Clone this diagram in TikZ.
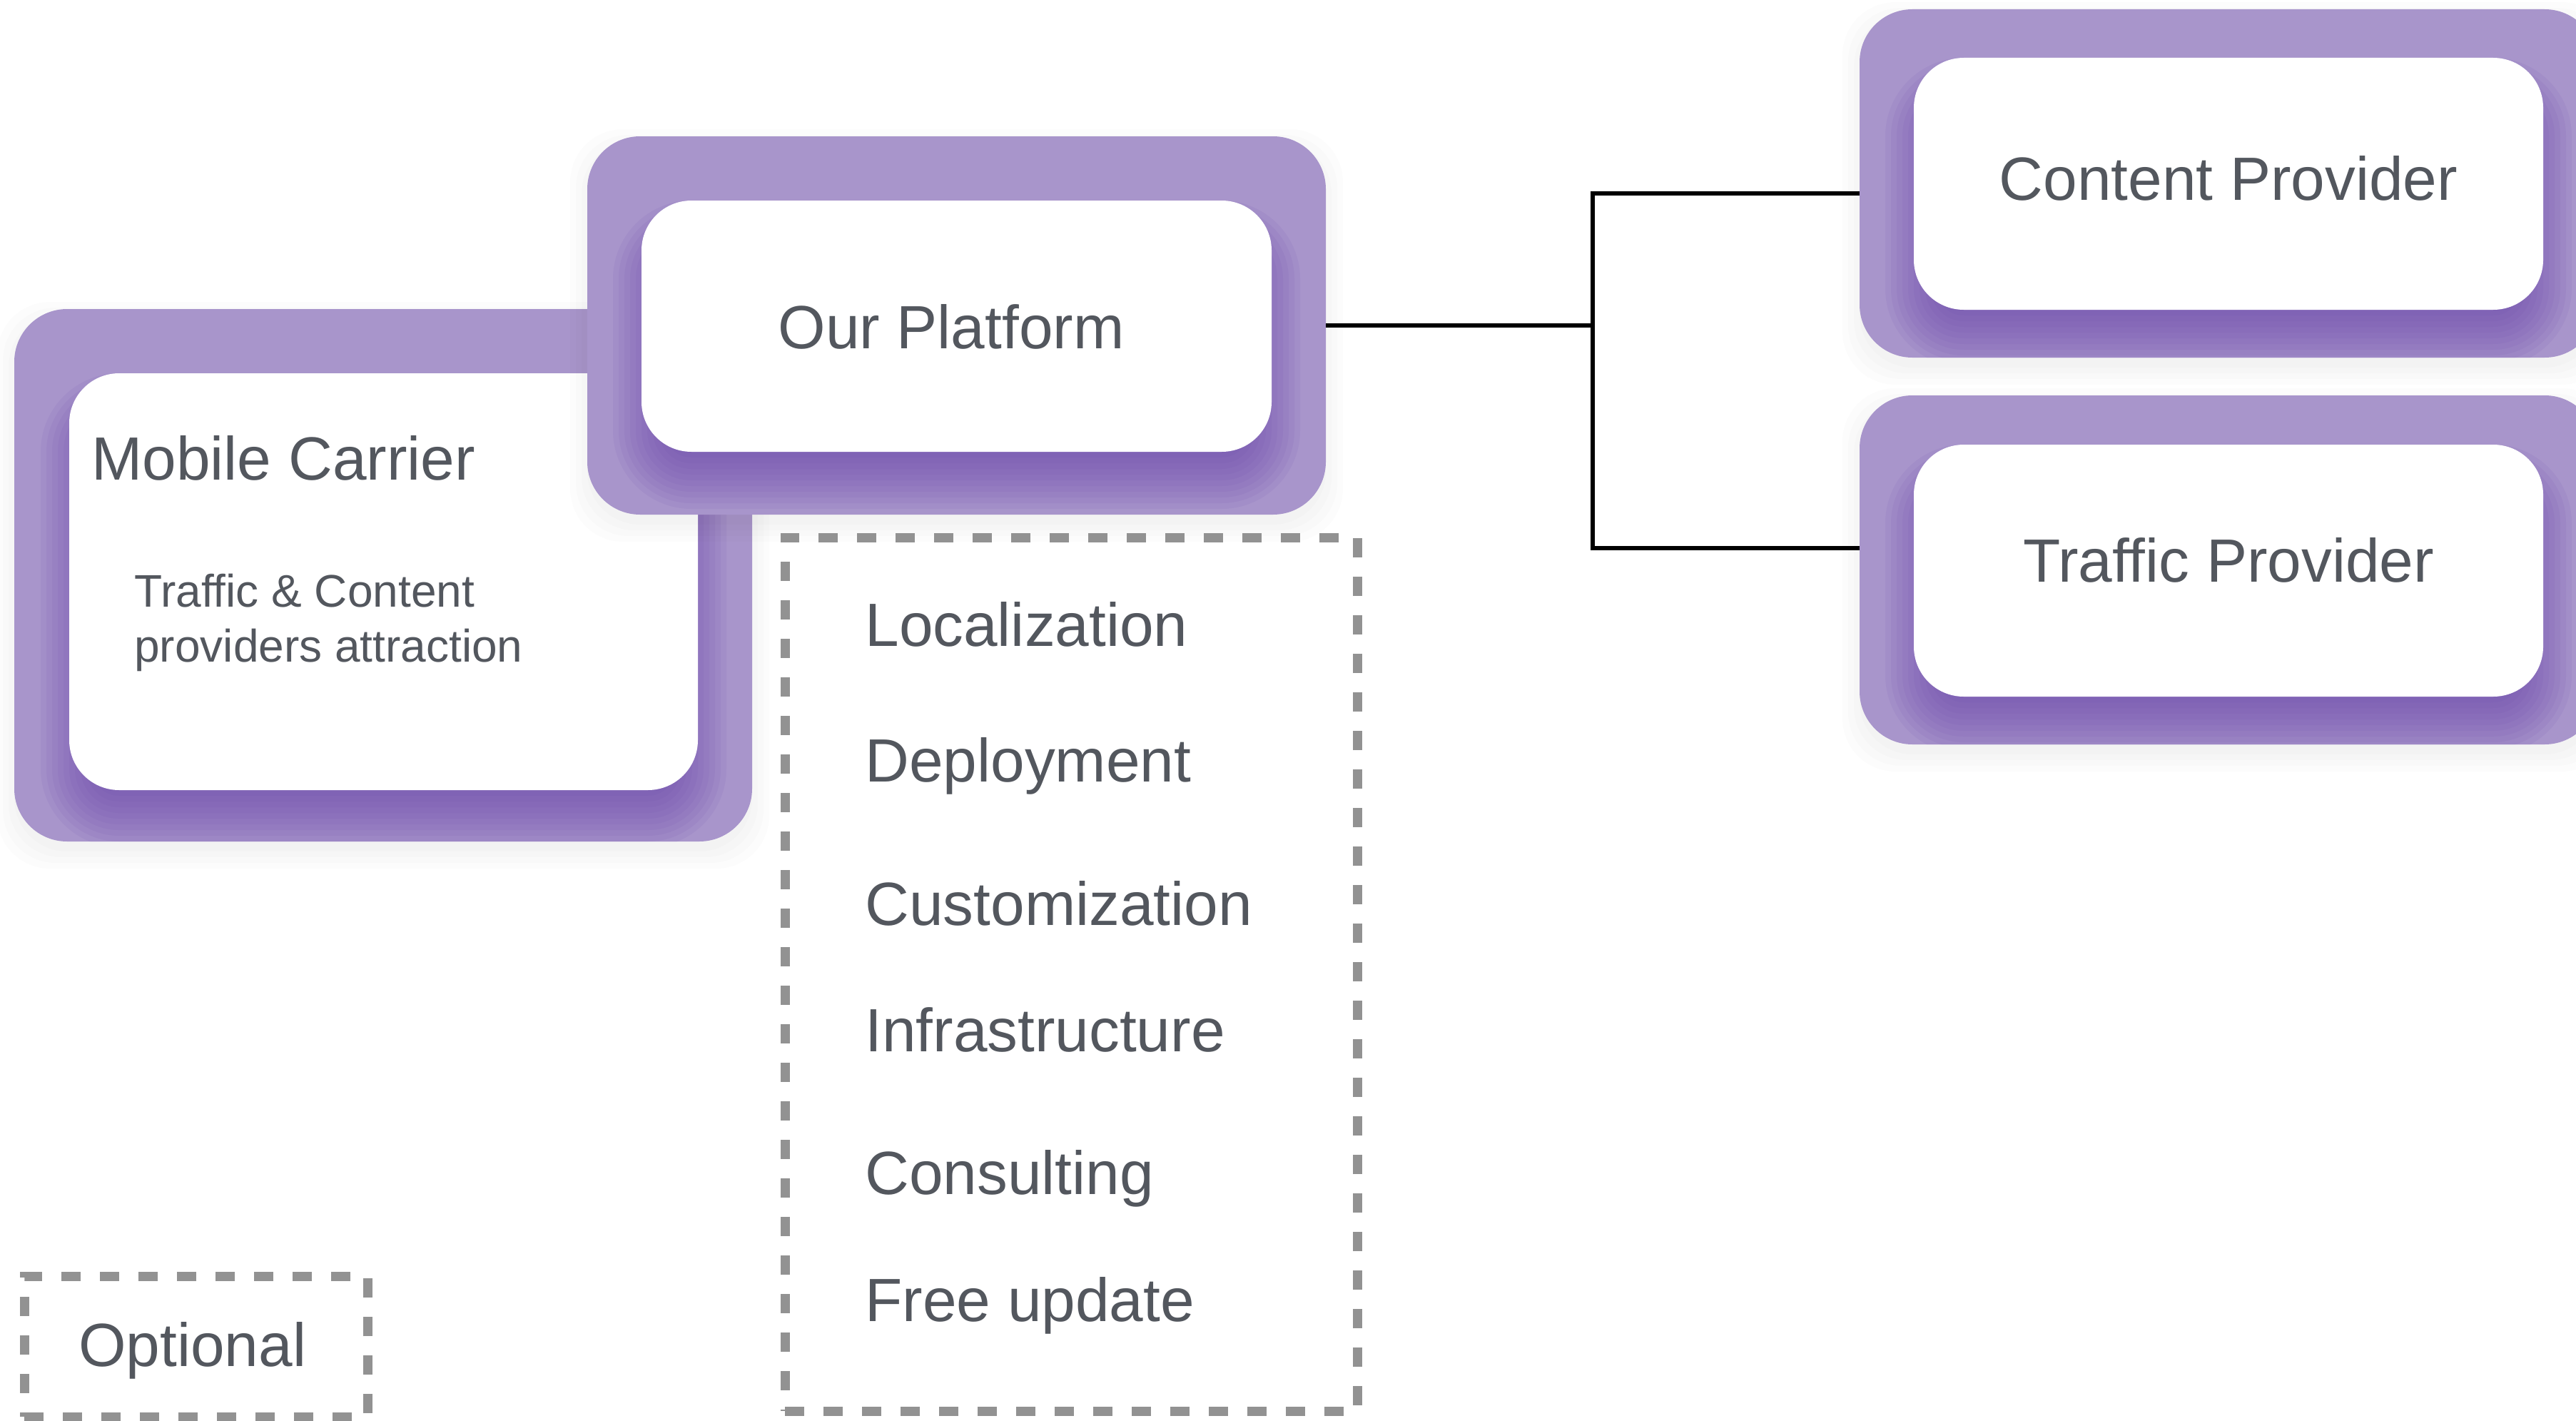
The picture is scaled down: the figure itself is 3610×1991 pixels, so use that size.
\documentclass[tikz,border=0pt]{standalone}
\usepackage{fontspec}
\setmainfont{Liberation Sans}
\usetikzlibrary{fit,calc}
\definecolor{outc}{HTML}{A895CB}
\definecolor{glowc}{HTML}{6C48AC}
\definecolor{txtc}{HTML}{53575E}
\definecolor{dashc}{HTML}{929292}
\tikzset{
  outbox/.style={fill=outc, draw=none, inner sep=0pt, rounded corners=37pt},
  inbox/.style={fill=white, draw=none, inner sep=0pt, rounded corners=35pt},
  dashbox/.style={draw=dashc, line width=6.5pt, dash pattern=on 13.5pt off 13.5pt, inner sep=0pt},
  bigtxt/.style={text=txtc, font=\fontsize{42.8}{51}\selectfont, inner sep=0pt},
  smalltxt/.style={text=txtc, font=\fontsize{32}{38.5}\selectfont, inner sep=0pt, align=left},
  conn/.style={draw=black, line width=2.6pt},
}
% #1 outer node, #2 inner top-left coordinate, #3 inner bottom-right coordinate
\newcommand\myglow[3]{%
  \begin{scope}
    \clip[rounded corners=37pt] (#1.south west) rectangle (#1.north east);
    \foreach \e in {-40,-32,...,40}{
      \pgfmathsetmacro\rr{max(2,35+\e/2)}
      \pgfmathsetmacro\ne{-\e}
      \pgfmathsetmacro\ta{-\e+40}
      \pgfmathsetmacro\tb{\e+40}
      \fill[glowc, fill opacity=.09, rounded corners=\rr pt]
        ($(#2)+(\ne,\ta)$) rectangle ($(#3)+(\e,\tb)$);
    }
  \end{scope}}
% faint grey shadow under an outer box: #1 top-left, #2 bottom-right
\newcommand\myshade[2]{%
  \foreach \e in {0,8,16,24}{
    \pgfmathsetmacro\ne{-\e}
    \pgfmathsetmacro\ta{-\e+14}
    \pgfmathsetmacro\tb{\e+14}
    \fill[black, fill opacity=.012, rounded corners=37pt]
      ($(#1)+(\ne,\ta)$) rectangle ($(#2)+(\e,\tb)$);
  }}
\begin{document}
\begin{tikzpicture}[x=0.5pt,y=-0.5pt]
\useasboundingbox (0,0) rectangle (3610,1991);
\clip (0,0) rectangle (3610,1991);

% ---- coordinates of boxes
\coordinate (mcA) at (20,433);   \coordinate (mcB) at (1054,1179);
\coordinate (mcIA) at (97,523);  \coordinate (mcIB) at (978,1107);
\coordinate (opA) at (823,191);  \coordinate (opB) at (1858,721);
\coordinate (opIA) at (899,281); \coordinate (opIB) at (1782,633);
\coordinate (cpA) at (2606,13);  \coordinate (cpB) at (3640,501);
\coordinate (cpIA) at (2682,81); \coordinate (cpIB) at (3564,434);
\coordinate (tpA) at (2606,554); \coordinate (tpB) at (3640,1043);
\coordinate (tpIA) at (2682,623);\coordinate (tpIB) at (3564,976);

% ---- Mobile Carrier
\myshade{mcA}{mcB}
\node[outbox, fit=(mcA)(mcB)] (mcO) {};
\myglow{mcO}{mcIA}{mcIB}
\node[inbox, fit=(mcIA)(mcIB)] (mc) {};
\node[smalltxt, anchor=base west] (mcS1) at (188,850) {Traffic \& Content};
\node[smalltxt, anchor=base west] (mcS2) at (188,927) {providers attraction};
\node[bigtxt, anchor=base west] (mcT) at (128,672) {Mobile Carrier};

% ---- Our Platform
\myshade{opA}{opB}
\node[outbox, fit=(opA)(opB)] (opO) {};
\myglow{opO}{opIA}{opIB}
\node[inbox, fit=(opIA)(opIB)] (op) {};
\node[bigtxt, anchor=base] (opT) at (1333,488) {Our Platform};

% ---- Content Provider
\myshade{cpA}{cpB}
\node[outbox, fit=(cpA)(cpB)] (cpO) {};
\myglow{cpO}{cpIA}{cpIB}
\node[inbox, fit=(cpIA)(cpIB)] (cp) {};
\node[bigtxt, anchor=base] (cpT) at (3123,280) {Content Provider};

% ---- Traffic Provider
\myshade{tpA}{tpB}
\node[outbox, fit=(tpA)(tpB)] (tpO) {};
\myglow{tpO}{tpIA}{tpIB}
\node[inbox, fit=(tpIA)(tpIB)] (tp) {};
\node[bigtxt, anchor=base] (tpT) at (3123,815) {Traffic Provider};

% ---- connectors
\coordinate (jn) at (2232,456);
\coordinate (jt) at (2232,271);
\coordinate (jb) at (2232,768);
\draw[conn] (opO.east) -- (jn);
\draw[conn] (jt -| cpO.west) -- (jt) -- (jb) -- (jb -| tpO.west);

% ---- services dashed box
\coordinate (svA) at (1100,753); \coordinate (svB) at (1902,1977);
\node[dashbox, fit=(svA)(svB)] (sv) {};
\node[bigtxt, anchor=base west] (s1) at (1212,905) {Localization};
\node[bigtxt, anchor=base west] (s2) at (1212,1095) {Deployment};
\node[bigtxt, anchor=base west] (s3) at (1212,1296) {Customization};
\node[bigtxt, anchor=base west] (s4) at (1212,1473) {Infrastructure};
\node[bigtxt, anchor=base west] (s5) at (1212,1673) {Consulting};
\node[bigtxt, anchor=base west] (s6) at (1212,1851) {Free update};

% ---- optional legend
\coordinate (ogA) at (34,1788); \coordinate (ogB) at (515,1985);
\node[dashbox, fit=(ogA)(ogB)] (og) {};
\node[bigtxt, anchor=base west] (ogT) at (110,1914) {Optional};
\end{tikzpicture}
\end{document}
